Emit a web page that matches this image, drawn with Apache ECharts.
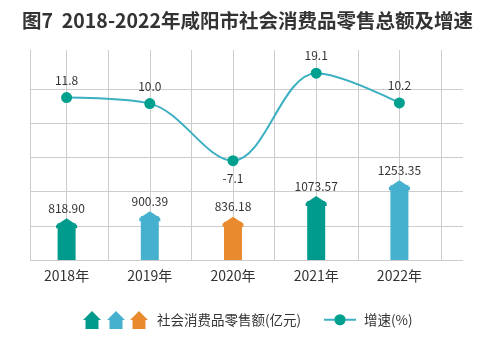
<!DOCTYPE html>
<html>
<head>
<meta charset="utf-8">
<script src="https://cdn.jsdelivr.net/npm/echarts@6/dist/echarts.min.js"></script>
<style>
  html, body { margin: 0; padding: 0; background: #fff; }
  #chart { width: 500px; height: 354px; }
</style>
</head>
<body>
<div id="chart"></div>
<script>
// data
const years = ["2018年", "2019年", "2020年", "2021年", "2022年"];
const retailSales = [818.9, 900.39, 836.18, 1073.57, 1253.35];
const growthRate = [11.8, 10.0, -7.1, 19.1, 10.2];
const barColors = ["#009b8c", "#45b1cf", "#e98a2e", "#009b8c", "#45b1cf"];

const FONT = "Noto Sans CJK SC";
const GRID_LINE = "#cdcdcd";
const housePath = "path://M9 0 L18 9 L15.5 9 L15.5 18 L2.5 18 L2.5 9 L0 9 Z";
const headPath = "path://M10 0 L20 7 L20 10 L0 10 L0 7 Z";
const housePoints = [[9, 0], [18, 9], [15.5, 9], [15.5, 18], [2.5, 18], [2.5, 9], [0, 9]];

const chart = echarts.init(document.getElementById("chart"));

chart.setOption({
  animation: false,
  textStyle: { fontFamily: FONT },
  title: {
    text: "图7  2018-2022年咸阳市社会消费品零售总额及增速",
    left: 17,
    top: 6,
    textStyle: { fontSize: 19.5, fontWeight: "bold", color: "#333", fontFamily: FONT },
  },
  legend: [
    {
      left: 130,
      top: 311,
      padding: 0,
      itemWidth: 18,
      itemHeight: 18,
      selectedMode: false,
      textStyle: { fontSize: 13.5, color: "#333", padding: [0, 0, 0, 4] },
      data: [
        {
          name: "社会消费品零售额(亿元)",
          icon: housePath,
          itemStyle: { color: barColors[2] },
        },
      ],
    },
    {
      left: 323,
      top: 313,
      padding: 0,
      itemWidth: 32,
      itemHeight: 14,
      selectedMode: false,
      textStyle: { fontSize: 13.5, color: "#333", padding: [0, 0, 0, 3] },
      data: ["增速(%)"],
    },
  ],
  graphic: [
    { type: "polygon", x: 83, y: 311, shape: { points: housePoints }, style: { fill: barColors[0] } },
    { type: "polygon", x: 107, y: 311, shape: { points: housePoints }, style: { fill: barColors[1] } },
  ],
  grid: [
    { left: 25, right: 59, top: 50, bottom: 94 }, // data
    { left: 30, right: 37, top: 89, bottom: 94 }, // horizontal lines
    { left: 25, right: 59, top: 50, bottom: 94 }, // vertical lines
    { left: 30, right: 37, top: 50, bottom: 94 }, // left border
  ],
  xAxis: [
    {
      type: "category",
      gridIndex: 0,
      data: years,
      axisLine: { show: false },
      axisTick: { show: false },
      axisLabel: { fontSize: 14, color: "#333", margin: 9 },
    },
    { type: "value", gridIndex: 1, show: false },
    {
      type: "category",
      gridIndex: 2,
      data: ["", "", "", "", "", "", "", "", "", ""],
      axisLine: { show: false },
      axisTick: { show: false },
      axisLabel: { show: false },
      splitLine: {
        show: true,
        interval: (i) => i !== 0,
        lineStyle: { color: GRID_LINE, width: 1 },
      },
    },
    { type: "value", gridIndex: 3, show: false },
  ],
  yAxis: [
    { type: "value", gridIndex: 0, min: 400, max: 2800, show: false },
    { type: "value", gridIndex: 0, min: -36.82, max: 26.05, show: false },
    {
      type: "value",
      gridIndex: 1,
      min: 0,
      max: 5,
      interval: 1,
      axisLine: { show: false },
      axisTick: { show: false },
      axisLabel: { show: false },
      splitLine: { show: true, lineStyle: { color: GRID_LINE, width: 1 } },
    },
    { type: "value", gridIndex: 2, show: false },
    {
      type: "value",
      gridIndex: 3,
      axisLine: { show: true, lineStyle: { color: GRID_LINE, width: 1 } },
      axisTick: { show: false },
      axisLabel: { show: false },
      splitLine: { show: false },
    },
  ],
  series: [
    {
      name: "社会消费品零售额(亿元)",
      type: "bar",
      xAxisIndex: 0,
      yAxisIndex: 0,
      barWidth: 18,
      z: 3,
      data: retailSales.map((v, i) => ({ value: v, itemStyle: { color: barColors[i] } })),
    },
    {
      name: "社会消费品零售额(亿元)",
      type: "pictorialBar",
      xAxisIndex: 0,
      yAxisIndex: 0,
      symbol: headPath,
      symbolSize: [21, 10],
      symbolPosition: "end",
      symbolOffset: [0, "-50%"],
      z: 4,
      label: {
        show: true,
        position: "top",
        distance: 4,
        fontSize: 12,
        color: "#333",
        formatter: (p) => p.value.toFixed(2),
      },
      data: retailSales.map((v, i) => ({ value: v, itemStyle: { color: barColors[i] } })),
    },
    {
      name: "增速(%)",
      type: "line",
      xAxisIndex: 0,
      yAxisIndex: 1,
      smooth: 0.35,
      symbol: "circle",
      symbolSize: 11,
      z: 5,
      itemStyle: { color: "#00a08f" },
      lineStyle: { color: "#3cb0c2", width: 2 },
      label: {
        show: true,
        position: "top",
        distance: 6,
        fontSize: 12,
        color: "#333",
        formatter: (p) => p.value.toFixed(1),
      },
      data: growthRate.map((v) =>
        v < 0 ? { value: v, label: { position: "bottom" } } : v
      ),
    },
  ],
});
</script>
</body>
</html>
